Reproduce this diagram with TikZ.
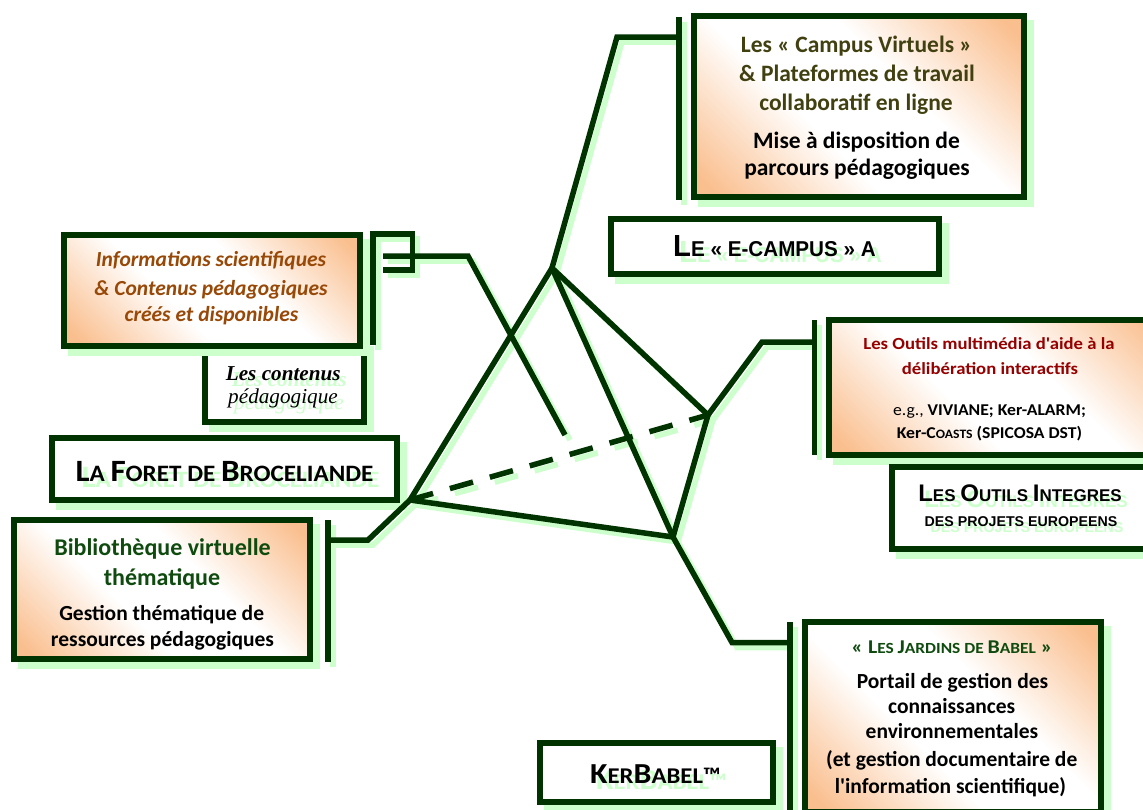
\documentclass[tikz,border=0pt]{standalone}
\usepackage{fontspec}
\setmainfont{Carlito}
\newfontfamily\cwa[FakeStretch=1.07]{Carlito}
\newfontfamily\cwb[FakeStretch=1.1]{Carlito}
\newfontfamily\cwc[FakeStretch=1.12]{Carlito}
\newfontfamily\arialfont[FakeStretch=0.96]{Liberation Sans}
\newfontfamily\arialw{Liberation Sans}
\newfontfamily\timesfont{Liberation Serif}
\usetikzlibrary{shadows}
\definecolor{dkgreen}{RGB}{0,51,0}
\definecolor{shadgreen}{RGB}{204,255,204}
\definecolor{peach}{RGB}{250,191,143}
\definecolor{olivetxt}{RGB}{64,64,16}
\definecolor{browntxt}{RGB}{152,72,7}
\definecolor{greentxt}{RGB}{15,75,15}
\definecolor{redtxt}{RGB}{150,0,0}
\pgfdeclareverticalshading{peachdiag}{100bp}{color(0bp)=(peach); color(18bp)=(peach); color(41bp)=(white); color(59bp)=(white); color(82bp)=(peach); color(100bp)=(peach)}
\newcommand{\fs}[2]{{\fontsize{#1}{#1}\selectfont #2}}
\newcommand{\bsz}[1]{\bfseries\fontsize{#1}{#1}\selectfont}
\newcommand{\shtext}[4]{%
  \node[t,text=shadgreen,xshift=6pt,yshift=-6pt] (#1-sh) at (#2,#3) {#4};
  \node[t] (#1) at (#2,#3) {#4};}
\newcommand{\connectors}[1]{%
  \draw[#1] (k1a) -- (k1b);
  \draw[#1] (k1m) -- (k1e) -- (T);
  \draw[#1] (k2a) -- (k2b) -- (k2c) -- (k2d) -- (k2e);
  \draw[#1] (k2f) -- (k2g) -- (k2h);
  \draw[#1] (k3a) -- (k3b);
  \draw[#1] (k3m) -- (k3e) -- (L);
  \draw[#1] (k4a) -- (k4b);
  \draw[#1] (k4m) -- (k4e) -- (R);
  \draw[#1] (k5a) -- (k5b);
  \draw[#1] (k5m) -- (k5e) -- (B);
  \draw[#1] (T) -- (L) -- (B) -- (R) -- cycle;
  \draw[#1] (T) -- (B);
  \draw[#1, dash pattern=on 24pt off 17.5pt] (L) -- (R);}
\tikzset{
  box/.style={draw=dkgreen, line width=6pt, fill=white, inner sep=0pt,
    general shadow={shadow xshift=7pt, shadow yshift=-7pt, fill=shadgreen, draw=shadgreen, line width=6pt}},
  gbox/.style={box, shading=peachdiag, shading angle=-45},
  conn/.style={draw=dkgreen, line width=5.5pt},
  connsh/.style={draw=shadgreen, line width=5.5pt, transform canvas={shift={(5pt,-5pt)}}},
  t/.style={anchor=base, inner sep=0pt},
}
\begin{document}
\begin{tikzpicture}[x=1pt,y=-1pt]
\useasboundingbox (0,0) rectangle (1143,809);
\fill[white] (0,0) rectangle (1143,809);
\begin{scope}
\clip (0,0) rectangle (1143,809);
% boxes
\node[box, minimum width=159pt, minimum height=80pt] (contenus) at (284,381.5) {};
\node[gbox, minimum width=296pt, minimum height=111pt] (info) at (212,290) {};
\node[gbox, minimum width=330pt, minimum height=181pt] (campus) at (859,106.5) {};
\node[box, minimum width=328pt, minimum height=55pt] (ecampus) at (775,246.5) {};
\node[box, minimum width=345pt, minimum height=62pt] (foret) at (224.5,469) {};
\node[gbox, minimum width=296pt, minimum height=138.5pt] (biblio) at (162,589.25) {};
\node[gbox, minimum width=341pt, minimum height=135pt] (outils) at (999.5,387.5) {};
\node[box, minimum width=279pt, minimum height=81.5pt] (integres) at (1031,507.75) {};
\node[gbox, minimum width=295.5pt, minimum height=190.5pt] (jardins) at (952.75,716.75) {};
\node[box, minimum width=233.5pt, minimum height=59pt] (kerbabel) at (656.25,772) {};
% tetrahedron vertices and connector points
\coordinate (T) at (552,268);
\coordinate (L) at (410,500);
\coordinate (R) at (708,415);
\coordinate (B) at (673,537);
\coordinate (k1a) at (679,17);   \coordinate (k1b) at (679,200);
\coordinate (k1m) at (679,37);   \coordinate (k1e) at (617,37);
\coordinate (k2a) at (373,345);  \coordinate (k2b) at (373,234);
\coordinate (k2c) at (412.5,234);\coordinate (k2d) at (412.5,270);
\coordinate (k2e) at (383,270);
\coordinate (k2f) at (383,256);  \coordinate (k2g) at (468,256);
\coordinate (k2h) at (565,435);
\coordinate (k3a) at (328,520);  \coordinate (k3b) at (328,662);
\coordinate (k3m) at (328,540);  \coordinate (k3e) at (368,540);
\coordinate (k4a) at (814.5,320);\coordinate (k4b) at (814.5,455);
\coordinate (k4m) at (814.5,342);\coordinate (k4e) at (762,342);
\coordinate (k5a) at (790,622);  \coordinate (k5b) at (790,815);
\coordinate (k5m) at (790,642.5);\coordinate (k5e) at (732,642.5);
\connectors{connsh}
\connectors{conn}
% texts
\node[t, text=olivetxt, font=\bsz{23.5}] (camp1) at (856.5,52.7) {Les « Campus Virtuels »};
\node[t, text=olivetxt, font=\bsz{23.5}] (camp2) at (857,81.7) {\& Plateformes de travail};
\node[t, text=olivetxt, font=\bsz{23.5}] (camp3) at (856,110) {collaboratif en ligne};
\node[t, font=\bsz{23.5}] (camp4) at (856.5,148.3) {Mise à disposition de};
\node[t, font=\bsz{23.5}] (camp5) at (857,175) {parcours pédagogiques};
\shtext{ecamp}{774.5}{256.7}{\arialfont\bfseries\fs{30.5}{L}\fs{21.5}{E « E-CAMPUS » A}}
\node[t, text=browntxt, font=\bsz{21.5}\itshape] (info1) at (211,266.7) {Informations scientifiques};
\node[t, text=browntxt, font=\bsz{21.5}\itshape] (info2) at (211,295) {\& Contenus pédagogiques};
\node[t, text=browntxt, font=\bsz{21.5}\itshape] (info3) at (211.5,321.7) {créés et disponibles};
\shtext{cont1}{283.3}{380}{\timesfont\bfseries\itshape\fs{21.2}{Les contenus}}
\shtext{cont2}{283}{403.3}{\timesfont\itshape\fs{21.2}{pédagogique}}
\shtext{foret-t}{224.5}{481.7}{\cwa\bfseries\fs{31}{L}\fs{23.5}{A }\fs{31}{F}\fs{23.5}{ORET DE }\fs{31}{B}\fs{23.5}{ROCELIANDE}}
\begin{scope}
\clip (0,500) rectangle (330,649);
\node[t, text=greentxt, font=\bsz{24}] (bib1) at (162.5,555) {Bibliothèque virtuelle};
\node[t, text=greentxt, font=\bsz{24}] (bib2) at (162,585) {thématique};
\node[t, font=\bsz{21.5}] (bib3) at (161.7,620) {Gestion thématique de};
\node[t, font=\bsz{21.5}] (bib4) at (162.5,646.5) {ressources pédagogiques};
\end{scope}
\node[t, text=redtxt, font=\cwb\bsz{17}] (out1) at (989,349.3) {Les Outils multimédia d\textquotesingle aide à la};
\node[t, text=redtxt, font=\cwb\bsz{17}] (out2) at (990,374) {délibération interactifs};
\node[t, font=\cwa\fontsize{16.5}{16.5}\selectfont] (out3) at (989.5,415) {e.g., \textbf{VIVIANE; Ker-ALARM;}};
\node[t, font=\cwa\bsz{16.5}] (out4) at (989.5,438.3) {Ker-C\fs{12.8}{OASTS} (SPICOSA DST)};
\shtext{integ1}{1020}{501.7}{\arialw\bfseries\fs{24}{L}\fs{17}{ES }\fs{24}{O}\fs{17}{UTILS }\fs{24}{I}\fs{17}{NTEGRES}}
\shtext{integ2}{1021}{526.7}{\arialw\bfseries\fs{14.2}{DES PROJETS EUROPEENS}}
\node[t, text=greentxt, font=\cwc\bsz{19.5}] (jard1) at (952,653.3) {« \fs{19.5}{L}\fs{15.5}{ES }\fs{19.5}{J}\fs{15.5}{ARDINS DE }\fs{19.5}{B}\fs{15.5}{ABEL} »};
\node[t, font=\bsz{21.5}] (jard2) at (952.5,688.3) {Portail de gestion des};
\node[t, font=\bsz{21.5}] (jard3) at (951.7,713.3) {connaissances};
\node[t, font=\bsz{21.5}] (jard4) at (952,738.3) {environnementales};
\node[t, font=\bsz{21.5}] (jard5) at (951.7,766) {(et gestion documentaire de};
\node[t, font=\bsz{21.5}] (jard6) at (950.5,793.3) {l\textquotesingle information scientifique)};
\shtext{kerb}{655.5}{783.3}{\cwb\bfseries\fs{29}{K}\fs{22.5}{ER}\fs{29}{B}\fs{22.5}{ABEL™}}
\end{scope}
\end{tikzpicture}
\end{document}
